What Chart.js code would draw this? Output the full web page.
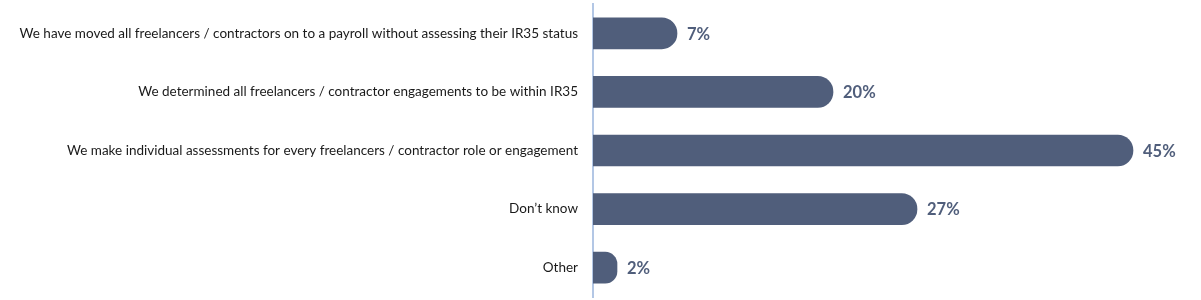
<!DOCTYPE html>
<html><head><meta charset="utf-8">
<script src="https://cdn.jsdelivr.net/npm/chart.js@4/dist/chart.umd.min.js"></script>
<style>html,body{margin:0;padding:0;background:#fff;overflow:hidden;}canvas{display:block;}</style>
</head><body><canvas id="c" width="1201" height="300" style="width:1201px;height:300px"></canvas>
<script>
const categories = [
  "We have moved all freelancers / contractors on to a payroll without assessing their IR35 status",
  "We determined all freelancers / contractor engagements to be within IR35",
  "We make individual assessments for every freelancers / contractor role or engagement",
  "Don\u2019t know",
  "Other"
];
const values = [7, 20, 45, 27, 2];
const valueLabels = ["7%", "20%", "45%", "27%", "2%"];

const barColor = "#505e7b";
const labelPlugin = {
  id: 'valueLabels',
  afterDatasetsDraw(chart) {
    const ctx = chart.ctx;
    const meta = chart.getDatasetMeta(0);
    ctx.save();
    ctx.font = "bold 16.5px Lato";
    ctx.fillStyle = barColor;
    ctx.textBaseline = "middle";
    ctx.textAlign = "left";
    meta.data.forEach((bar, i) => {
      ctx.fillText(valueLabels[i], bar.x + 10, bar.y + 1);
    });
    ctx.restore();
  }
};

new Chart(document.getElementById('c'), {
  type: 'bar',
  data: { labels: categories, datasets: [{ data: values, backgroundColor: barColor, barThickness: 31, borderRadius: 16, borderSkipped: 'start' }] },
  options: {
    indexAxis: 'y',
    responsive: false,
    animation: false,
    layout: { padding: { top: 4, bottom: 3, left: 0, right: 8 } },
    plugins: { legend: { display: false }, tooltip: { enabled: false } },
    scales: {
      x: { min: 0, max: 50, display: false },
      y: {
        afterFit(s) { s.width = 593; s.paddingTop = 0; s.paddingBottom = 0; },
        grid: { display: false },
        border: { display: true, color: "#b3c7e5", width: 2 },
        ticks: { color: "#1a1a1a", font: { family: "Lato", size: 13.5 }, padding: 7 }
      }
    }
  },
  plugins: [labelPlugin]
});
</script></body></html>
